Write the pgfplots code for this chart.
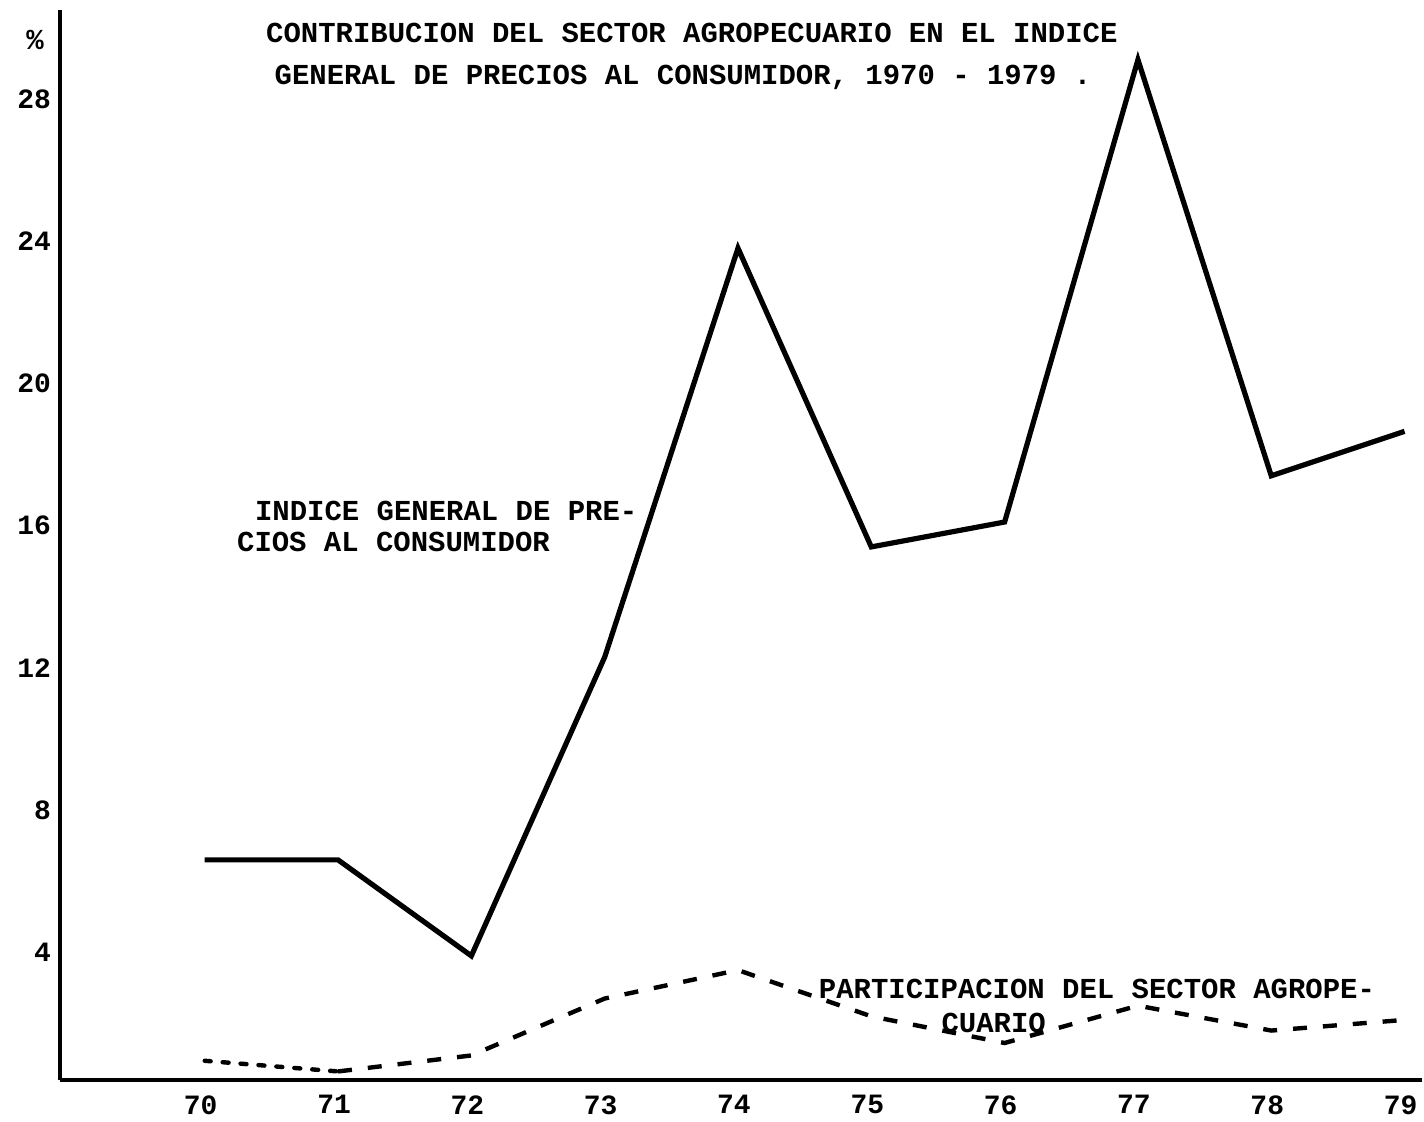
\documentclass[border=0pt]{standalone}
\usepackage{fontspec}
\setmonofont{Liberation Mono}
\usepackage{pgfplots}
\pgfplotsset{compat=1.18}
\newcommand{\tw}{\ttfamily\bfseries\fontsize{14.5}{16}\selectfont}
\newcommand{\tk}{\ttfamily\bfseries\fontsize{14}{16}\selectfont}
\begin{document}
\begin{tikzpicture}
\begin{axis}[
  scale only axis,
  width=682pt, height=536pt,
  xmin=68.914, xmax=79.13,
  ymin=0.4, ymax=30.5,
  axis x line=bottom, axis y line=left,
  axis line style={-, line width=2pt, black},
  xtick={70,71,...,79},
  ytick={4,8,...,28},
  major tick length=0pt,
  /pgf/number format/assume math mode=true,
  tick label style={font=\tk},
  xticklabel style={yshift=-4pt, xshift=-2pt},
  yticklabel style={xshift=-1pt},
  clip=false,
]
\path (axis description cs:-0.044,-0.0317) rectangle (axis description cs:1,1.0093);
\addplot[black, line width=2.6pt, line join=miter] coordinates {
 (70,6.6) (71,6.6) (72,3.9) (73,12.3) (74,23.8) (75,15.4) (76,16.1) (77,29.1) (78,17.4) (79,18.65)
};
\addplot[black, line width=2.2pt, dash pattern=on 3pt off 6pt, line cap=round] coordinates {
 (70,0.95) (71,0.65)
};
\addplot[black, line width=2.2pt, dash pattern=on 7pt off 8pt] coordinates {
 (71,0.65) (72,1.1) (73,2.7) (74,3.5) (75,2.2) (76,1.45) (77,2.5) (78,1.8) (79,2.1)
};
\node[font=\tw] at (axis description cs:-0.0183,0.972) {\%};
\node[font=\tw] at (axis description cs:0.464,0.9785) {CONTRIBUCION DEL SECTOR AGROPECUARIO EN EL INDICE};
\node[font=\tw] at (axis description cs:0.4575,0.9366) {GENERAL DE PRECIOS AL CONSUMIDOR, 1970 - 1979 .};
\node[font=\tw, anchor=west, inner sep=0pt] at (axis description cs:0.143,0.5317) {INDICE GENERAL DE PRE-};
\node[font=\tw, anchor=west, inner sep=0pt] at (axis description cs:0.1298,0.5028) {CIOS AL CONSUMIDOR};
\node[font=\tw, anchor=west, inner sep=0pt, fill=white] at (axis description cs:0.557,0.0858) {PARTICIPACION DEL SECTOR AGROPE-};
\node[font=\tw, anchor=west, inner sep=0pt] at (axis description cs:0.647,0.0532) {CUARIO};
\end{axis}
\end{tikzpicture}
\end{document}
